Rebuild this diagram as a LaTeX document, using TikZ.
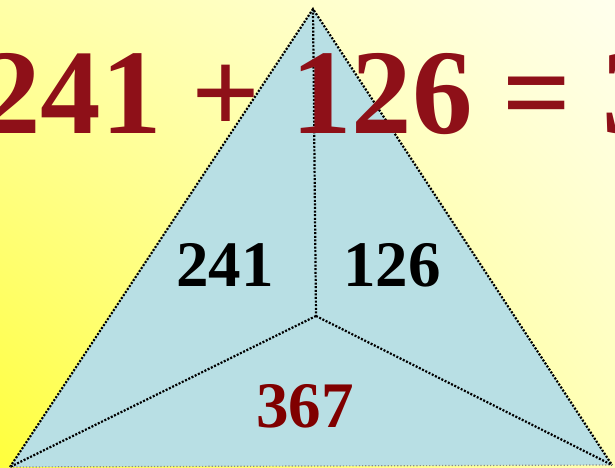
\documentclass[tikz,border=0pt]{standalone}
\usepackage{fontspec}
\setmainfont{Liberation Serif}
\usetikzlibrary{shadings}
\definecolor{sumred}{HTML}{8E1018}
\definecolor{ansred}{HTML}{800000}
\definecolor{triblue}{HTML}{B8DFE4}
\definecolor{bgdeep}{HTML}{FFFF3C}
\definecolor{bgmid}{HTML}{FFFFA8}
\definecolor{bgside}{HTML}{FFFFB4}
\definecolor{bgpale}{HTML}{FFFFEE}
\tikzset{
  % triangle
  tri/.style={fill=triblue},
  dots/.style={draw=black,line width=2.2pt,dash pattern=on 2pt off 1.6pt},
  base/.style={draw=black!45,line width=1.2pt,dash pattern=on 1.2pt off 2pt},
  % numbers
  bignum/.style={font=\fontsize{121}{121}\selectfont\bfseries,text=sumred,inner sep=0pt},
  part/.style={font=\fontsize{65}{65}\selectfont\bfseries,inner sep=0pt},
}
\begin{document}
\begin{tikzpicture}[x=1pt,y=1pt]
  \useasboundingbox (0,0) rectangle (615,467);
  \clip (0,0) rectangle (615,467);
  \shade[lower left=bgdeep,upper left=bgmid,lower right=bgside,upper right=bgpale]
    (0,0) rectangle (615,467);
  \coordinate (top) at (313,458);
  \coordinate (left) at (10,0);
  \coordinate (right) at (612,2);
  \coordinate (mid) at (316,151);
  \fill[tri] (top) -- (left) -- (right) -- cycle;
  \draw[dots] (left) -- (top) -- (right);
  \draw[base] (left) -- (right);
  \draw[dots] (top) -- (mid);
  \draw[dots] (mid) -- (left);
  \draw[dots] (mid) -- (right);
  \node[bignum,anchor=base west] (sum) at (-20,334) {241 + 126 = 367};
  \node[part,anchor=base] (a) at (225,181) {241};
  \node[part,anchor=base] (b) at (392,181) {126};
  \node[part,anchor=base,text=ansred] (c) at (305,40) {367};
\end{tikzpicture}
\end{document}
